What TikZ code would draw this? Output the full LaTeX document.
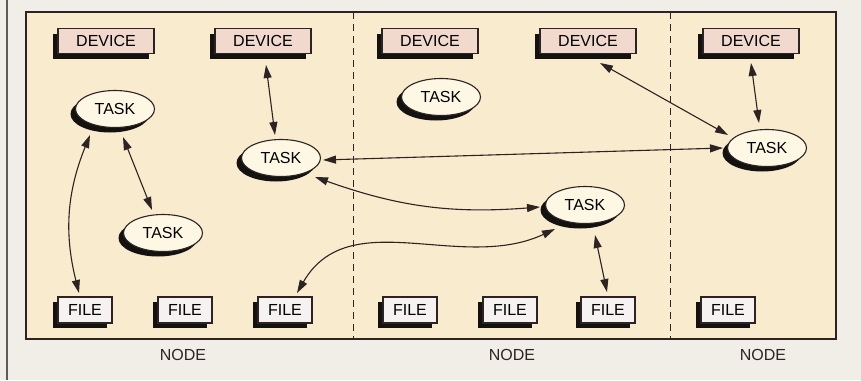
\documentclass[tikz,border=0pt]{standalone}
\usepackage{fontspec}
\setmainfont{Liberation Sans}
\usetikzlibrary{arrows.meta, shapes.geometric, shadows, calc}
\definecolor{PageGray}{RGB}{240,238,230}
\definecolor{PanelBeige}{RGB}{248,235,206}
\definecolor{DevicePink}{RGB}{242,217,205}
\definecolor{FileWhite}{RGB}{246,242,241}
\definecolor{TaskCream}{RGB}{253,247,228}
\definecolor{InkDark}{RGB}{45,35,35}

\begin{document}
\begin{tikzpicture}[
  x=1pt, y=1pt,
  dshadow/.style={drop shadow={shadow xshift=-5pt, shadow yshift=-5pt,
      fill=black, opacity=0.92}},
  device/.style={
    rectangle, draw=InkDark, fill=DevicePink, line width=1.1pt,
    minimum width=96pt, minimum height=25pt, inner sep=0pt,
    font=\fontsize{16}{19}\selectfont, dshadow
  },
  file/.style={
    rectangle, draw=InkDark, fill=FileWhite, line width=1.1pt,
    minimum width=54pt, minimum height=26pt, inner sep=0pt,
    font=\fontsize{16}{19}\selectfont, dshadow
  },
  task/.style={
    ellipse, draw=InkDark, fill=TaskCream, line width=1.1pt,
    minimum width=79pt, minimum height=37pt, inner sep=0pt,
    font=\fontsize{16}{19}\selectfont, dshadow
  },
  host/.style={font=\fontsize{16}{19}\selectfont, text=InkDark},
  arr/.style={<->, >={Triangle[length=13pt, width=8pt]}, line width=1.1pt, color=InkDark}
]
  \useasboundingbox (0,0) rectangle (861,-380);
  \fill[PageGray] (0,0) rectangle (861,-380);
  \draw[InkDark!75, line width=1.2pt] (7,0) -- (7,-380);

  % panel and node boundaries
  \draw[InkDark, fill=PanelBeige, line width=1.2pt] (26,-12) rectangle (836,-339);
  \draw[InkDark, line width=1pt, dash pattern=on 7pt off 5pt] (353,-12) -- (353,-339);
  \draw[InkDark, line width=1pt, dash pattern=on 7pt off 5pt] (670,-12) -- (670,-339);

  \node[host] (host1) at (183,-355) {NODE};
  \node[host] (host2) at (512,-355) {NODE};
  \node[host] (host3) at (763,-355) {NODE};

  % devices
  \node[device] (d1) at (106,-41) {DEVICE};
  \node[device] (d2) at (263,-41) {DEVICE};
  \node[device] (d3) at (430,-41) {DEVICE};
  \node[device] (d4) at (588,-41) {DEVICE};
  \node[device] (d5) at (751,-41) {DEVICE};

  % tasks
  \node[task] (t1) at (115,-109) {TASK};
  \node[task] (t2) at (163,-233) {TASK};
  \node[task] (t3) at (281,-158) {TASK};
  \node[task] (t4) at (441,-97)  {TASK};
  \node[task] (t5) at (585,-205) {TASK};
  \node[task] (t6) at (767,-148) {TASK};

  % files
  \node[file] (f1) at (85,-310)  {FILE};
  \node[file] (f2) at (185,-310) {FILE};
  \node[file] (f3) at (285,-310) {FILE};
  \node[file] (f4) at (410,-310) {FILE};
  \node[file] (f5) at (510,-310) {FILE};
  \node[file] (f6) at (608,-310) {FILE};
  \node[file] (f7) at (728,-310) {FILE};

  % connections
  \draw[arr] ($(t1)+(-25,-26)$) to[bend right=18] ($(f1)+(-6,17)$);
  \draw[arr] ($(t1)+(8,-28)$)   -- ($(t2)+(-11,23)$);
  \draw[arr] ($(d2)+(3,-24)$)   -- ($(t3)+(-6,23)$);
  \draw[arr] ($(t3)+(42,-2)$)   -- ($(t6)+(-44,0)$);
  \draw[arr] ($(t3)+(34,-19)$)  to[bend right=12] ($(t5)+(-45,-2)$);
  \draw[arr] ($(f3)+(12,17)$)   to[out=60, in=205] ($(t5)+(-30,-24)$);
  \draw[arr] ($(t5)+(10,-30)$)  -- ($(f6)+(-1,18)$);
  \draw[arr] ($(d4)+(12,-22)$)  -- ($(t6)+(-39,13)$);
  \draw[arr] ($(d5)+(0,-22)$)   -- ($(t6)+(-8,25)$);
\end{tikzpicture}
\end{document}
